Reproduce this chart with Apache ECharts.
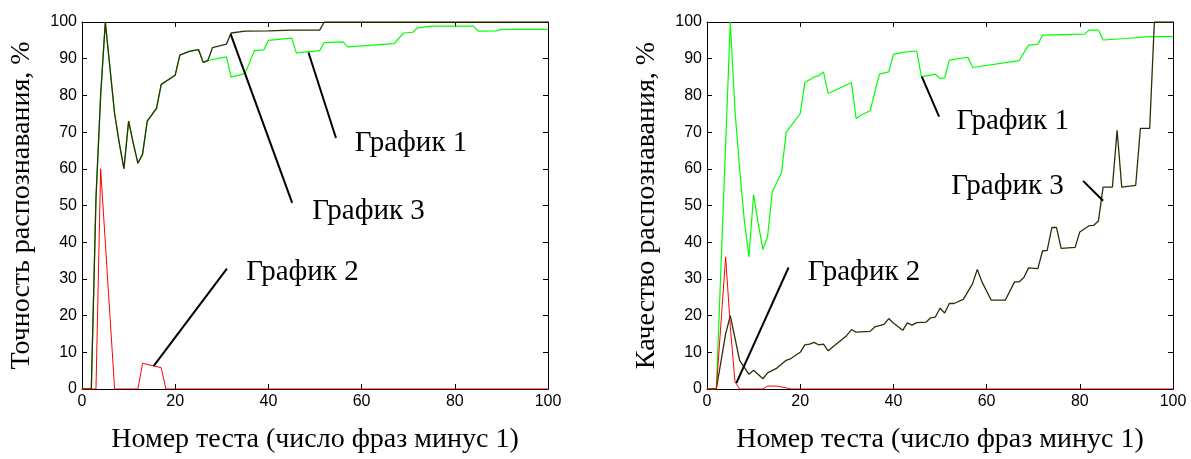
<!DOCTYPE html>
<html>
<head>
<meta charset="utf-8">
<script src="https://cdn.jsdelivr.net/npm/echarts@6/dist/echarts.min.js"></script>
<style>
html,body{margin:0;padding:0;background:#fff;}
#main{width:1191px;height:459px;}
</style>
</head>
<body>
<div id="main"></div>
<script>
// левый график: точность распознавания
var accGraph1 = [[0,0],[2,0],[3,52],[4,80],[5,100],[7,75],[8,67],[9,60],[10,73],[11,67],[12,61.5],[13,64],[14,73],[16,76.5],[17,83],[20,85.5],[21,91],[23,92],[25,92.5],[26,89],[27,89.5],[31,90.5],[32,85],[35,86],[37,92.2],[39,92.4],[40,95],[45,95.6],[46,91.6],[51,92.2],[52,94.4],[56,94.6],[57,93.2],[67,94.1],[69,97],[71,97.2],[72,98.4],[75,98.9],[84,98.9],[85,97.5],[89,97.6],[90,98],[100,98]];
var accGraph2 = [[0,0],[3,0],[4,60],[7,0],[12,0],[13,7],[17,5.8],[18,0],[100,0]];
var accGraph3 = [[0,0],[2,0],[3,52],[4,80],[5,100],[7,75],[8,67],[9,60],[10,73],[11,67],[12,61.5],[13,64],[14,73],[16,76.5],[17,83],[20,85.5],[21,91],[23,92],[25,92.5],[26,89],[27,89.5],[28,93],[31,94],[32,97],[35,97.5],[40,97.6],[45,97.8],[51,97.8],[52,100],[100,100]];

// правый график: качество распознавания
var qualGraph1 = [[0,0],[2,0],[5,100],[6,76],[7,60],[8,46],[9,36],[10,53],[11,45],[12,38],[13,41.5],[14,53.7],[16,59],[17,70],[20,75],[21,83.5],[23,85],[24,85.4],[25,86.4],[26,80.5],[31,83.5],[32,73.7],[33,74.6],[35,75.8],[37,85.8],[39,86.4],[40,91.2],[42,91.7],[45,92.1],[46,85.1],[49,85.8],[50,84.6],[51,84.8],[52,89.6],[56,90.4],[57,87.6],[67,89.5],[69,93.7],[71,93.9],[72,96.4],[81,96.7],[82,97.8],[84,97.8],[85,95.1],[90,95.5],[95,96],[100,96]];
var qualGraph2 = [[0,0],[2,0],[4,36],[5,17],[6,2],[7,0],[12,0],[13,0.8],[15,0.8],[17,0.3],[18,0],[100,0]];
var qualGraph3 = [[0,0],[2,0],[4,15],[5,20],[7,7.8],[9,4],[10,5.1],[12,2.8],[13,4.4],[15,5.7],[17,7.8],[18,8.3],[20,10],[21,12],[22,12.2],[23,12.7],[24,12],[25,12.2],[26,10.4],[30,14.6],[31,16.2],[32,15.5],[35,15.7],[36,16.9],[38,17.6],[39,19.2],[40,18],[42,16],[43,18],[44,17.4],[45,18.1],[47,18.2],[48,19.4],[49,19.6],[50,22],[51,20.7],[52,23.3],[53,23.3],[55,24.4],[57,28.7],[58,32.6],[59,29.2],[61,24.2],[64,24.2],[66,29.2],[67,29.2],[68,30.4],[69,33],[71,32.8],[72,37.6],[73,37.8],[74,44],[75,44],[76,38.3],[79,38.6],[80,42.8],[82,44.5],[83,44.6],[84,45.8],[85,55],[87,55],[88,70.5],[89,55],[92,55.5],[93,71],[95,71],[96,100],[100,100]];

var xTitle = 'Номер теста (число фраз минус 1)';
var yTitles = ['Точность распознавания, %', 'Качество распознавания, %'];
var labelNames = ['График 1', 'График 2', 'График 3'];

// подписи и выноски (в координатах данных)
var accLabels = [[70.6,67],[47.3,31.8],[61.5,48.5]];
var accPointers = [[[48.6,91.7],[54.5,68.4]],[[31.1,32.8],[15.4,6.3]],[[31.9,96.7],[45.1,50.7]]];
var qualLabels = [[65.6,73],[33.7,31.8],[64.5,55.3]];
var qualPointers = [[[46.1,85.1],[49.8,74.2]],[[17.5,33.1],[6.3,1.6]],[[80.7,56.7],[85,51.3]]];

var chart = echarts.init(document.getElementById('main'));

var tickFont = {fontFamily:'Liberation Sans', fontSize:16, color:'#000'};
var serif = 'Liberation Serif';

function xAxes(gi){
	var base = {
		type:'value', gridIndex:gi, min:0, max:100, interval:20,
		axisLine:{show:true, onZero:false, lineStyle:{color:'#000', width:1}},
		axisTick:{show:true, inside:true, length:5, lineStyle:{color:'#000'}},
		splitLine:{show:false}
	};
	return [
		Object.assign({}, base, {
			position:'bottom',
			axisLabel:Object.assign({margin:5}, tickFont),
			name:xTitle, nameLocation:'middle', nameGap:37,
			nameTextStyle:{fontFamily:serif, fontSize:28, color:'#000'}
		}),
		Object.assign({}, base, {position:'top', axisLabel:{show:false}})
	];
}

function yAxes(gi){
	var base = {
		type:'value', gridIndex:gi, min:0, max:100, interval:10,
		axisLine:{show:true, onZero:false, lineStyle:{color:'#000', width:1}},
		axisTick:{show:true, inside:true, length:5, lineStyle:{color:'#000'}},
		splitLine:{show:false}
	};
	return [
		Object.assign({}, base, {
			position:'left',
			axisLabel:Object.assign({margin:5}, tickFont),
			name:yTitles[gi], nameLocation:'middle', nameGap:46,
			nameTextStyle:{fontFamily:serif, fontSize:28, color:'#000'}
		}),
		Object.assign({}, base, {position:'right', axisLabel:{show:false}})
	];
}

function makeSeries(gi, g1, g2, g3, labels, pointers){
	var lines = pointers.map(function(p){
		return [{coord:p[0]}, {coord:p[1]}];
	});
	var points = labels.map(function(c, i){
		return {coord:c, name:labelNames[i]};
	});
	return [
		{type:'line', xAxisIndex:gi*2, yAxisIndex:gi*2, data:g1, symbol:'none',
			lineStyle:{color:'#00ff00', width:1.2}, z:2},
		{type:'line', xAxisIndex:gi*2, yAxisIndex:gi*2, data:g3, symbol:'none',
			lineStyle:{color:'#2e2e05', width:1.3}, z:3,
			markLine:{silent:true, symbol:['none','none'], label:{show:false},
				lineStyle:{color:'#000', width:2, type:'solid'}, data:lines},
			markPoint:{silent:true, symbol:'circle', symbolSize:1,
				itemStyle:{color:'rgba(0,0,0,0)'},
				label:{show:true, position:'inside', formatter:'{b}',
					fontFamily:serif, fontSize:29, color:'#000'},
				data:points}
		},
		{type:'line', xAxisIndex:gi*2, yAxisIndex:gi*2, data:g2, symbol:'none',
			lineStyle:{color:'#ff0000', width:1}, z:4}
	];
}

var option = {
	animation:false,
	backgroundColor:'#fff',
	grid:[
		{left:82, top:22, width:466, height:367},
		{left:707, top:22, width:466, height:367}
	],
	xAxis:xAxes(0).concat(xAxes(1)),
	yAxis:yAxes(0).concat(yAxes(1)),
	series:makeSeries(0, accGraph1, accGraph2, accGraph3, accLabels, accPointers)
		.concat(makeSeries(1, qualGraph1, qualGraph2, qualGraph3, qualLabels, qualPointers))
};

chart.setOption(option);
</script>
</body>
</html>
